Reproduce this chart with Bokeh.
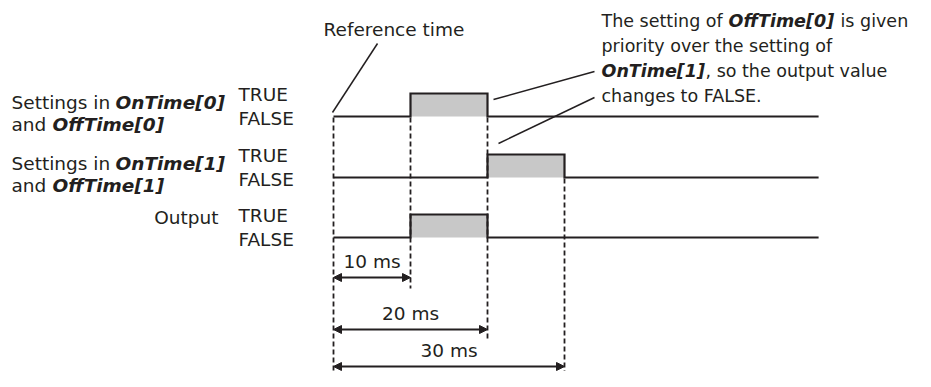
from bokeh.plotting import figure
from bokeh.models import Range1d, Arrow, NormalHead
from bokeh.core.properties import value
from bokeh.embed import file_html
from bokeh.resources import INLINE

# ---------------- data ----------------
T_END = 63                      # ms, end of the drawn time axis
ROW_ON = [10, 20, 10]           # ms: OnTime[0], OnTime[1], Output rises
ROW_OFF = [20, 30, 20]          # ms: OffTime[0], OffTime[1], Output falls
DIM_SPANS = [10, 20, 30]        # ms: dimension arrows from reference time
DIM_LABELS = ["10 ms", "20 ms", "30 ms"]
LEVEL_LABELS = ["TRUE", "FALSE"]

# ---------------- layout ----------------
W, H = 915, 371
PX_PER_MS = 7.7
X_ORIGIN = 333                  # picture x of reference time
ROW_LOW_Y = [116, 177, 237]     # picture y of FALSE level per row
HIGH_H = 23                     # height of TRUE level above FALSE
DIM_Y = [277, 329, 366]         # picture y of dimension arrows
DIM_TEXT_DY = -16
INK = "#231f20"
FILL = "#c8c8c8"
FONT = value("DejaVu Sans")
FS = value("18.5px")
FS_CALLOUT = value("17.5px")


def px2t(px):
    return (px - X_ORIGIN) / PX_PER_MS


p = figure(width=W, height=H, output_backend="svg", toolbar_location=None,
           x_range=Range1d(px2t(0), px2t(W)), y_range=Range1d(H, 0),
           x_axis_location=None, y_axis_location=None, min_border=0,
           outline_line_color=None, background_fill_color="white",
           border_fill_color="white")
p.xgrid.visible = False
p.ygrid.visible = False

# signals
for low, on, off in zip(ROW_LOW_Y, ROW_ON, ROW_OFF):
    high = low - HIGH_H
    p.quad(left=[on], right=[off], top=[high], bottom=[low],
           fill_color=FILL, line_color=None)
    p.line(x=[0, on, on, off, off, T_END],
           y=[low, low, high, high, low, low],
           line_color=INK, line_width=2.2, line_join="miter")

# dashed guide lines
edge_times = [0] + sorted(set(ROW_ON + ROW_OFF))
for t in edge_times:
    first_row = 0
    for i, (on, off) in enumerate(zip(ROW_ON, ROW_OFF)):
        if t in (on, off):
            first_row = i
            break
    y0 = ROW_LOW_Y[first_row] + 1
    if t in DIM_SPANS and t != max(DIM_SPANS):
        y1 = DIM_Y[DIM_SPANS.index(t)] + 11
    else:
        y1 = H
    p.line(x=[t, t], y=[y0, y1], line_color=INK, line_width=1.8,
           line_dash="5 3")

# dimension arrows
for span, lab, y in zip(DIM_SPANS, DIM_LABELS, DIM_Y):
    p.add_layout(Arrow(
        start=NormalHead(size=8, fill_color=INK, line_color=INK, line_width=1),
        end=NormalHead(size=8, fill_color=INK, line_color=INK, line_width=1),
        x_start=0, x_end=span, y_start=y, y_end=y,
        line_color=INK, line_width=2))
    p.text(x=[span / 2], y=[y + DIM_TEXT_DY], text=[lab], text_font=FONT,
           text_font_size=FS, text_align="center", text_baseline="middle",
           text_color=INK)

# TRUE / FALSE labels
for low in ROW_LOW_Y:
    p.text(x=[px2t(238)] * 2, y=[low - HIGH_H + 1, low + 1.5],
           text=LEVEL_LABELS, text_font=FONT, text_font_size=FS,
           text_align="left", text_baseline="middle", text_color=INK)


def txt(px, y, s, bold=False, align="left", size=FS):
    p.text(x=[px2t(px)], y=[y], text=[s], text_font=FONT, text_font_size=size,
           text_align=align, text_baseline="middle", text_color=INK,
           text_font_style="bold italic" if bold else "normal")


# row labels
for k, low in enumerate(ROW_LOW_Y[:2]):
    y1 = low - HIGH_H + 9
    y2 = low + 8
    txt(11, y1, "Settings in")
    txt(115, y1, "OnTime[%d]" % k, bold=True)
    txt(11, y2, "and")
    txt(52, y2, "OffTime[%d]" % k, bold=True)
txt(218, ROW_LOW_Y[2] - HIGH_H + 3, "Output", align="right")

# reference time label + leader
txt(323, 29, "Reference time")
p.line(x=[px2t(332), px2t(377)], y=[112, 43], line_color=INK, line_width=1.5)

# callout
CX = 601
txt(CX, 20, "The setting of", size=FS_CALLOUT)
txt(CX + 127, 20, "OffTime[0]", bold=True, size=FS_CALLOUT)
txt(CX + 239, 20, "is given", size=FS_CALLOUT)
txt(CX, 45, "priority over the setting of", size=FS_CALLOUT)
txt(CX, 70, "OnTime[1]", bold=True, size=FS_CALLOUT)
txt(CX + 104, 70, ", so the output value", size=FS_CALLOUT)
txt(CX, 95, "changes to FALSE.", size=FS_CALLOUT)
p.line(x=[px2t(493), px2t(594)], y=[99, 71], line_color=INK, line_width=1.5)
p.line(x=[px2t(498), px2t(594)], y=[143, 97], line_color=INK, line_width=1.5)

open("out.html", "w").write(file_html(p, INLINE))
